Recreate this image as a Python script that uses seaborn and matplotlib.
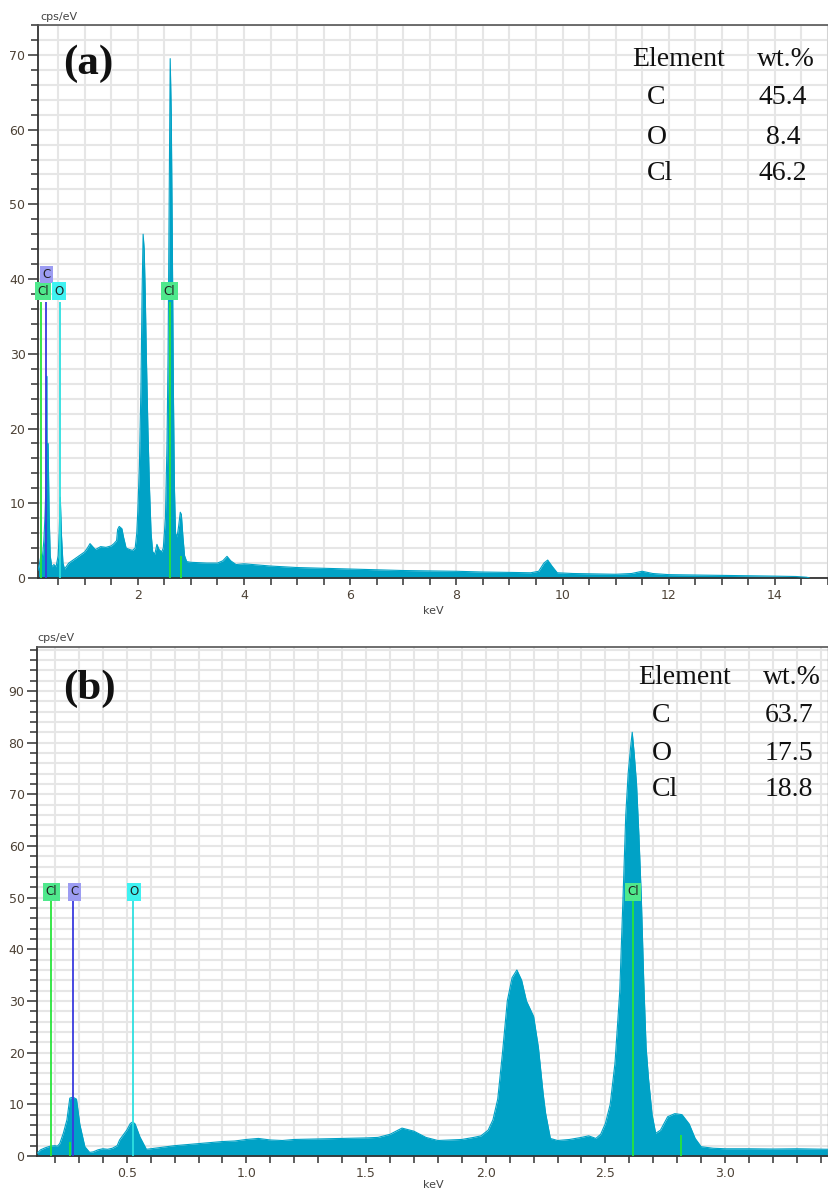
import numpy as np
import pandas as pd
import matplotlib
matplotlib.use('Agg')
import matplotlib.pyplot as plt
import seaborn as sns
from matplotlib.ticker import MultipleLocator, FixedLocator

# ---------------- data ----------------
a_keV = [0.12, 0.15, 0.18, 0.20, 0.23, 0.25, 0.27, 0.285, 0.29, 0.31, 0.33, 0.35, 0.38, 0.42,
         0.46, 0.50, 0.52, 0.54, 0.56, 0.59, 0.62, 0.65, 0.70, 0.80, 0.90, 1.00, 1.05, 1.10,
         1.15, 1.20, 1.30, 1.40, 1.50, 1.55, 1.60, 1.62, 1.65, 1.70, 1.73, 1.78, 1.85, 1.90,
         1.95, 1.98, 2.00, 2.03, 2.06, 2.08, 2.10, 2.12, 2.14, 2.16, 2.19, 2.22, 2.25, 2.28,
         2.32, 2.36, 2.40, 2.45, 2.48, 2.52, 2.55, 2.57, 2.59, 2.61, 2.63, 2.65, 2.67, 2.69,
         2.71, 2.74, 2.77, 2.80, 2.82, 2.85, 2.88, 2.92, 3.00, 3.30, 3.50, 3.60, 3.68, 3.75,
         3.85, 4.00, 4.50, 5.00, 5.50, 6.00, 6.50, 7.00, 7.50, 8.00, 8.50, 9.00, 9.40, 9.55,
         9.65, 9.72, 9.80, 9.90, 10.2, 10.6, 11.0, 11.3, 11.5, 11.7, 12.0, 12.5, 13.0, 13.5,
         14.0, 14.4, 14.6, 14.65]
a_cps = [1.0, 2.0, 3.2, 2.5, 5.0, 8.0, 12.5, 27.0, 18.0, 18.0, 8.5, 3.0, 1.5, 1.8,
         1.5, 3.0, 6.2, 10.8, 6.0, 2.0, 1.2, 1.5, 2.0, 2.5, 3.0, 3.5, 4.0, 4.6,
         4.2, 3.8, 4.2, 4.1, 4.3, 4.6, 5.0, 6.5, 6.9, 6.6, 5.5, 4.0, 3.8, 3.7,
         4.0, 6.0, 9.0, 15.0, 26.0, 38.0, 46.0, 44.0, 38.0, 30.0, 20.0, 12.0, 6.0, 3.5,
         3.2, 4.5, 3.8, 3.5, 4.0, 8.0, 18.0, 30.0, 50.0, 69.5, 62.0, 45.0, 25.0, 12.0,
         6.0, 5.5, 7.0, 8.8, 8.5, 5.5, 3.0, 2.2, 2.1, 2.0, 2.0, 2.3, 2.9, 2.3,
         1.8, 1.9, 1.6, 1.4, 1.3, 1.2, 1.1, 1.0, 0.95, 0.9, 0.8, 0.75, 0.7, 0.9,
         2.0, 2.4, 1.6, 0.7, 0.6, 0.55, 0.5, 0.6, 0.9, 0.6, 0.45, 0.4, 0.35, 0.3,
         0.25, 0.2, 0.1, 0.0]

b_keV = [0.125, 0.14, 0.16, 0.18, 0.20, 0.21, 0.22, 0.235, 0.25, 0.262, 0.275, 0.29, 0.304,
         0.325, 0.345, 0.36, 0.38, 0.40, 0.42, 0.44, 0.46, 0.47, 0.50, 0.515, 0.525, 0.535,
         0.555, 0.582, 0.60, 0.65, 0.70, 0.75, 0.80, 0.85, 0.90, 0.95, 1.00, 1.05, 1.10,
         1.15, 1.20, 1.30, 1.40, 1.50, 1.55, 1.60, 1.65, 1.70, 1.75, 1.80, 1.85, 1.90,
         1.95, 1.98, 2.01, 2.03, 2.05, 2.07, 2.09, 2.11, 2.13, 2.15, 2.17, 2.20, 2.22,
         2.24, 2.25, 2.27, 2.30, 2.35, 2.40, 2.43, 2.46, 2.48, 2.50, 2.52, 2.54, 2.56,
         2.575, 2.585, 2.595, 2.605, 2.612, 2.62, 2.63, 2.64, 2.65, 2.66, 2.67, 2.68,
         2.695, 2.71, 2.73, 2.76, 2.79, 2.82, 2.85, 2.875, 2.90, 2.95, 3.00, 3.10, 3.20,
         3.30, 3.43]
b_cps = [0.5, 1.2, 1.6, 1.9, 2.0, 1.9, 2.4, 4.4, 7.0, 11.2, 11.4, 11.0, 6.1,
         1.8, 0.7, 0.8, 1.2, 1.4, 1.3, 1.5, 2.0, 3.1, 5.0, 6.3, 6.6, 6.2,
         3.7, 1.3, 1.4, 1.7, 2.0, 2.2, 2.4, 2.6, 2.8, 2.9, 3.2, 3.4, 3.1,
         3.0, 3.2, 3.3, 3.4, 3.5, 3.6, 4.2, 5.4, 4.8, 3.6, 3.0, 3.1, 3.2,
         3.6, 3.9, 5.0, 7.0, 11.0, 20.0, 30.0, 34.5, 36.0, 34.0, 30.0, 27.0, 21.0,
         12.0, 8.3, 3.4, 3.0, 3.2, 3.6, 3.9, 3.4, 4.2, 6.3, 10.0, 18.0, 32.0,
         52.0, 66.0, 74.0, 79.0, 82.0, 78.0, 72.0, 62.0, 50.0, 34.0, 21.0, 15.0,
         8.0, 4.4, 5.0, 7.6, 8.2, 8.0, 6.2, 3.4, 1.8, 1.5, 1.4, 1.4, 1.35,
         1.4, 1.3]

# element marker lines
line_elements = ['Cl', 'C', 'O', 'Cl']
line_keV = [0.183, 0.277, 0.525, 2.615]
a_line_top = 37.0
a_label_y = [38.4, 40.6, 38.4, 38.4]
b_line_top = 49.3
b_label_y = [51.1, 51.1, 51.1, 51.1]
minor_line_keV_a = [2.815]
minor_line_top_a = [3.0]
minor_line_keV_b = [0.262, 2.815]
minor_line_top_b = [2.8, 4.0]

table_elements = ['C', 'O', 'Cl']
a_wt = ['45.4', '8.4', '46.2']
b_wt = ['63.7', '17.5', '18.8']

# ---------------- style ----------------
sns.set_style('white')
plt.rcParams['font.family'] = ['DejaVu Sans']

TEAL = '#00a2c6'
TICKC = '#4d4236'
GRID = '#e6e6e6'
line_colors = {'Cl': '#27e43a', 'C': '#3a3adf', 'O': '#2ee0e0'}
box_colors = {'Cl': '#4fe88c', 'C': '#9c9cf2', 'O': '#3ff2f2'}

W, H = 829, 1192
fig = plt.figure(figsize=(W / 100, H / 100), dpi=100)
axA = fig.add_axes([38 / W, 1 - 578 / H, 790 / W, 553 / H])
axB = fig.add_axes([37 / W, 1 - 1156 / H, 791 / W, 509 / H])


def style(ax, xlim, ylim, xmaj, xmin, xfmt, ymax_tick):
    ax.set_xlim(*xlim)
    ax.set_ylim(*ylim)
    ax.xaxis.set_major_locator(FixedLocator(xmaj))
    ax.set_xticklabels([xfmt.format(v) for v in xmaj])
    ax.xaxis.set_minor_locator(MultipleLocator(xmin))
    ax.yaxis.set_major_locator(FixedLocator(list(range(0, ymax_tick + 1, 10))))
    ax.yaxis.set_minor_locator(MultipleLocator(2))
    ax.grid(which='both', axis='both', color=GRID, lw=1.5, zorder=0)
    ax.set_axisbelow(True)
    ax.tick_params(axis='x', which='both', direction='out', length=5, width=1.1,
                   color='#333333', labelsize=9, labelcolor=TICKC, pad=3, bottom=True)
    ax.tick_params(axis='y', which='major', direction='out', length=7, width=1.1,
                   color='#333333', labelsize=9, labelcolor=TICKC, pad=2, left=True)
    ax.tick_params(axis='y', which='minor', direction='out', length=5, width=1.1,
                   color='#333333', left=True)
    for s in ['left', 'bottom']:
        ax.spines[s].set_color('#333333')
        ax.spines[s].set_linewidth(1.3)
    ax.spines['top'].set_color('#555555')
    ax.spines['top'].set_linewidth(1.2)
    ax.spines['right'].set_color('#888888')
    ax.spines['right'].set_linewidth(1.0)
    ax.set_xlabel('')
    ax.set_ylabel('')


def draw_spectrum(ax, x, y):
    df = pd.DataFrame({'keV': x, 'cps': y})
    ax.fill_between(df['keV'], 0, df['cps'], color=TEAL, lw=0, zorder=2)
    sns.lineplot(data=df, x='keV', y='cps', ax=ax, color=TEAL, lw=0.8,
                 estimator=None, sort=False, zorder=3)


def draw_markers(ax, top, label_y, label_x, minor_x, minor_top):
    for el, xv, ly, lx in zip(line_elements, line_keV, label_y, label_x):
        ax.vlines(xv, 0, top, color=line_colors[el], lw=1.3, zorder=4)
        ax.text(lx, ly, el, ha='center', va='center', fontsize=8.5, color='#222222',
                zorder=5, bbox=dict(boxstyle='square,pad=0.2', fc=box_colors[el], ec='none'))
    for xv, t in zip(minor_x, minor_top):
        ax.vlines(xv, 0, t, color=line_colors['Cl'], lw=1.3, zorder=4)


# panel (a)
draw_spectrum(axA, a_keV, a_cps)
style(axA, (0.12, 15.0), (0, 74), [2, 4, 6, 8, 10, 12, 14], 0.5, '{:d}', 70)
draw_markers(axA, a_line_top, a_label_y, [0.215, 0.28, 0.52, 2.6],
             minor_line_keV_a, minor_line_top_a)

# panel (b)
draw_spectrum(axB, b_keV, b_cps)
style(axB, (0.125, 3.43), (0, 98.5), [0.5, 1.0, 1.5, 2.0, 2.5, 3.0], 0.1, '{:.1f}', 90)
draw_markers(axB, b_line_top, b_label_y, [0.186, 0.28, 0.529, 2.615],
             minor_line_keV_b, minor_line_top_b)

# axis captions
for (xp, yp) in [(40, 17), (37, 638)]:
    fig.text(xp / W, 1 - yp / H, 'cps/eV', ha='left', va='center', fontsize=8, color='#444444')
for yp in [611, 1185]:
    fig.text(433 / W, 1 - yp / H, 'keV', ha='center', va='center', fontsize=8, color='#444444')

# panel labels
fig.text(63 / W, 1 - 64 / H, '(a)', ha='left', va='center', fontsize=31,
         family='Liberation Serif', weight='bold', color='#111111')
fig.text(63 / W, 1 - 689 / H, '(b)', ha='left', va='center', fontsize=31,
         family='Liberation Serif', weight='bold', color='#111111')

# composition tables
SER = dict(family='Liberation Serif', fontsize=20, color='#111111', va='center')
fig.text(632 / W, 1 - 60 / H, 'Element', ha='left', **SER)
fig.text(757 / W, 1 - 60 / H, 'wt.%', ha='left', **SER)
for el, v, yp in zip(table_elements, a_wt, [98, 137, 173]):
    fig.text(647 / W, 1 - yp / H, el, ha='left', **SER)
    fig.text(783 / W, 1 - yp / H, v, ha='center', **SER)

fig.text(638 / W, 1 - 677 / H, 'Element', ha='left', **SER)
fig.text(763 / W, 1 - 677 / H, 'wt.%', ha='left', **SER)
for el, v, yp in zip(table_elements, b_wt, [715, 753, 790]):
    fig.text(652 / W, 1 - yp / H, el, ha='left', **SER)
    fig.text(813 / W, 1 - yp / H, v, ha='right', **SER)

fig.savefig('out.png', dpi=100, facecolor='white')
